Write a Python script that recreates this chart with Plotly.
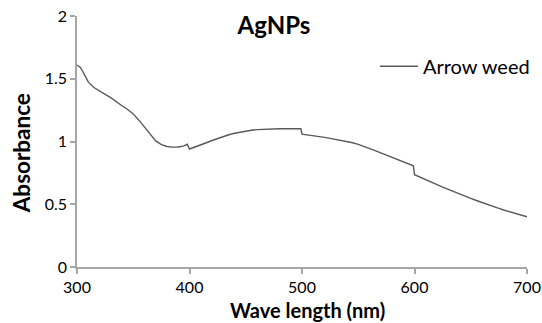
import plotly.graph_objects as go

wavelength = [300, 303, 305, 310, 315, 320, 325, 330, 335, 340, 345, 350, 355, 360, 365, 370, 375,
              380, 385, 390, 395, 398, 400, 405, 410, 415, 420, 425, 430, 435, 440, 445, 450,
              455, 460, 465, 470, 475, 480, 485, 490, 495, 499, 500, 505, 510, 515, 520, 525,
              530, 535, 540, 545, 550, 555, 560, 565, 570, 575, 580, 585, 590, 595, 599, 600,
              605, 610, 615, 620, 625, 630, 635, 640, 645, 650, 655, 660, 665, 670, 675, 680,
              685, 690, 695, 700]
absorbance = [1.61, 1.59, 1.56, 1.475, 1.43, 1.40, 1.375, 1.35, 1.315, 1.285, 1.255, 1.22, 1.17,
              1.115, 1.055, 1.005, 0.975, 0.96, 0.955, 0.956, 0.965, 0.978, 0.94, 0.955, 0.972,
              0.99, 1.008, 1.025, 1.04, 1.054, 1.066, 1.076, 1.084, 1.09, 1.095, 1.098, 1.100,
              1.101, 1.102, 1.102, 1.103, 1.102, 1.102, 1.058, 1.053, 1.046, 1.04, 1.033, 1.025,
              1.017, 1.008, 1.0, 0.99, 0.977, 0.962, 0.946, 0.928, 0.91, 0.891, 0.872, 0.853,
              0.835, 0.818, 0.806, 0.735, 0.714, 0.694, 0.675, 0.656, 0.637, 0.618, 0.6, 0.582,
              0.564, 0.547, 0.53, 0.513, 0.497, 0.482, 0.467, 0.452, 0.439, 0.425, 0.412, 0.40]
series_name = "Arrow weed"
chart_title = "AgNPs"
x_title = "Wave length (nm)"
y_title = "Absorbance"
x_ticks = [300, 400, 500, 600, 700]
y_ticks = [0, 0.5, 1, 1.5, 2]
y_tick_labels = ["0", "0.5", "1", "1.5", "2"]

FONT = "Lato, 'Open Sans', sans-serif"
AXIS_COLOR = "#a6a6a6"

fig = go.Figure()
fig.add_trace(go.Scatter(x=wavelength, y=absorbance, mode="lines", name=series_name,
                         line=dict(color="#595959", width=1.4)))

fig.update_layout(
    width=542, height=323,
    margin=dict(l=77, r=15, t=16, b=56, autoexpand=False),
    paper_bgcolor="white", plot_bgcolor="white",
    font=dict(family=FONT, color="black", size=16),
    showlegend=True,
    legend=dict(x=0.662, y=0.80, xanchor="left", yanchor="middle", itemwidth=38,
                bgcolor="rgba(0,0,0,0)", font=dict(size=20, family=FONT)),
    title=dict(text="<b>" + chart_title + "</b>", x=0.5055, xanchor="center",
               y=0.922, yanchor="middle", font=dict(size=24, family=FONT)),
    annotations=[
        dict(text="<b>" + x_title + "</b>", xref="paper", yref="paper", x=0.513, y=-0.173,
             xanchor="center", yanchor="middle", showarrow=False, font=dict(size=20, family=FONT)),
        dict(text="<b>" + y_title + "</b>", xref="paper", yref="paper", x=-0.124, y=0.454,
             xanchor="center", yanchor="middle", textangle=-90, showarrow=False,
             font=dict(size=22.5, family=FONT)),
    ],
)
fig.update_xaxes(range=[300, 700], tickvals=x_ticks, showgrid=False, zeroline=False,
                 showline=True, linecolor=AXIS_COLOR, linewidth=1.5, automargin=False,
                 ticks="outside", tickcolor=AXIS_COLOR, ticklen=5, tickwidth=1.5,
                 tickfont=dict(size=16, family=FONT))
fig.update_yaxes(range=[0, 2], tickvals=y_ticks, ticktext=y_tick_labels, showgrid=False, zeroline=False,
                 showline=True, linecolor=AXIS_COLOR, linewidth=1.5, automargin=False,
                 ticks="outside", tickcolor=AXIS_COLOR, ticklen=5, tickwidth=1.5,
                 tickfont=dict(size=16, family=FONT))

fig.write_html("out.html", config={"displayModeBar": False},
               post_script="document.body.style.margin='0';document.body.style.overflow='hidden';")
